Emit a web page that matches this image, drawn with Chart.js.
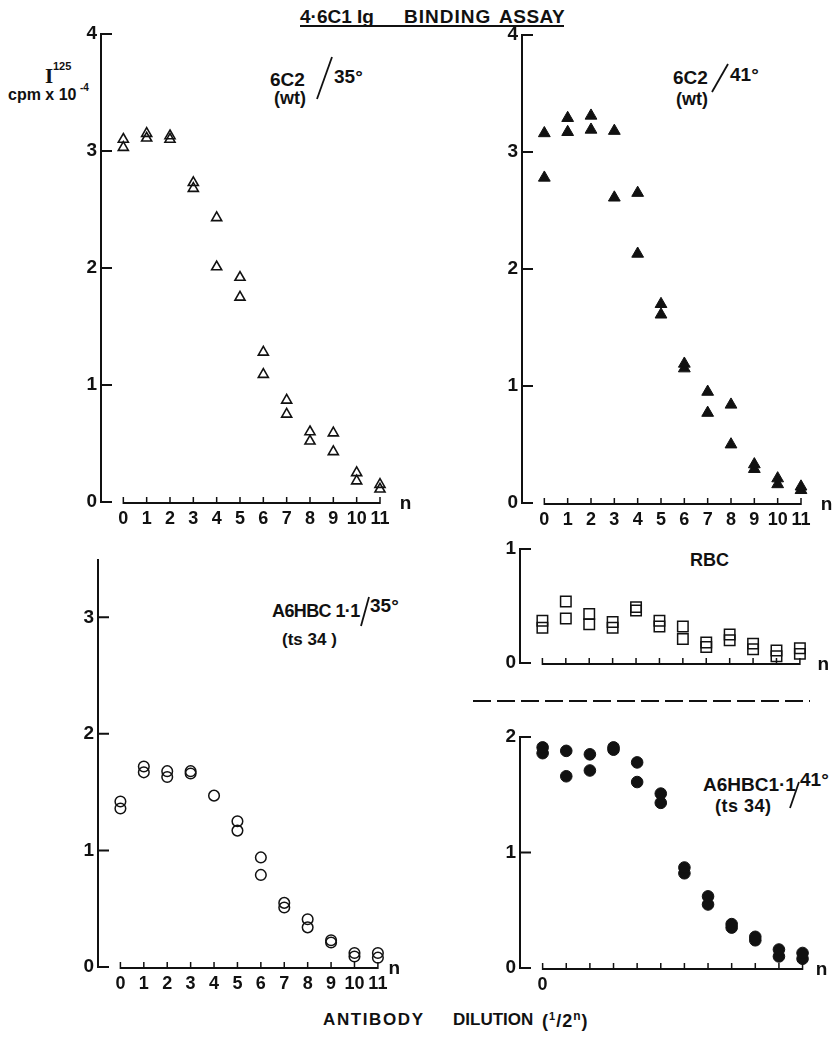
<!DOCTYPE html>
<html><head><meta charset="utf-8">
<script src="https://cdn.jsdelivr.net/npm/chart.js@4.4.1/dist/chart.umd.min.js"></script>
<style>
html,body{margin:0;padding:0;background:#fff;}
body{width:835px;height:1037px;position:relative;overflow:hidden;
 font-family:'Liberation Sans Narrow','Arial Narrow','Liberation Sans',Arial,sans-serif;font-weight:bold;color:#111;}
canvas{position:absolute;}
.t{position:absolute;white-space:nowrap;line-height:1;}
svg.deco{position:absolute;left:0;top:0;}
</style></head><body>

<!-- title -->
<div class="t" style="left:300px;top:7px;font-size:19px;">4·6C1 Ig</div>
<div class="t" style="left:404px;top:7px;font-size:19px;letter-spacing:1px;">BINDING</div>
<div class="t" style="left:499px;top:7px;font-size:19px;letter-spacing:0.5px;">ASSAY</div>
<div style="position:absolute;left:300px;top:25px;width:264px;height:2px;background:#111;"></div>

<!-- y axis title -->
<div class="t" style="left:45px;top:66px;font-size:21px;font-family:'Liberation Serif',serif;">I</div>
<div class="t" style="left:53px;top:61px;font-size:11px;">125</div>
<div class="t" style="left:8px;top:87px;font-size:16px;">cpm x 10</div>
<div class="t" style="left:80px;top:83px;font-size:10px;">-4</div>

<!-- panel labels -->
<div class="t" style="left:270px;top:70px;font-size:19px;">6C2</div>
<div class="t" style="left:334px;top:67px;font-size:19px;">35°</div>
<div class="t" style="left:274px;top:89px;font-size:18px;">(wt)</div>

<div class="t" style="left:673px;top:68px;font-size:19px;">6C2</div>
<div class="t" style="left:730px;top:65px;font-size:19px;">41°</div>
<div class="t" style="left:676px;top:90px;font-size:18px;">(wt)</div>

<div class="t" style="left:690px;top:551px;font-size:18px;">RBC</div>

<div class="t" style="left:272px;top:602px;font-size:18px;letter-spacing:-0.6px;">A6HBC 1·1</div>
<div class="t" style="left:370px;top:596px;font-size:19px;">35°</div>
<div class="t" style="left:282px;top:631px;font-size:17px;">(ts 34 )</div>

<div class="t" style="left:703px;top:775px;font-size:19px;">A6HBC1·1</div>
<div class="t" style="left:800px;top:770px;font-size:19px;">41°</div>
<div class="t" style="left:715px;top:797px;font-size:18px;letter-spacing:0.5px;">(ts 34)</div>

<!-- x axis title -->
<div class="t" style="left:323px;top:1011px;font-size:17px;letter-spacing:1.6px;">ANTIBODY</div>
<div class="t" style="left:453px;top:1011px;font-size:17px;letter-spacing:0px;">DILUTION</div>
<div class="t" style="left:542px;top:1010px;font-size:18px;letter-spacing:1px;">(<sup style="font-size:11px;">1</sup>/2<sup style="font-size:12px;">n</sup>)</div>

<svg class="deco" width="835" height="1037">
 <g stroke="#111" stroke-width="1.8" fill="none">
  <line x1="317" y1="99" x2="332" y2="57"/>
  <line x1="712" y1="92" x2="728" y2="64"/>
  <line x1="361" y1="626" x2="369" y2="597"/>
  <line x1="790" y1="808" x2="799" y2="782"/>
  <line x1="473" y1="701" x2="810" y2="701" stroke-width="2" stroke-dasharray="18 6"/>
 </g>
</svg>

<script>
// ---- data ----
const nValues = [0,1,2,3,4,5,6,7,8,9,10,11];
const xLabelsAll = [0,1,2,3,4,5,6,7,8,9,10,11];
const xLabelsZero = [0];
const xLabelsNone = [];
const yTicks4 = [0,1,2,3,4];
const yTicks3 = [0,1,2,3];
const yTicks2 = [0,1,2];
const yTicks1 = [0,1];

// 6C2 / 35° (wt) — open triangles, two replicates
const wt35A = [3.10,3.15,3.13,2.73,2.43,1.92,1.28,0.87,0.60,0.59,0.25,0.15];
const wt35B = [3.03,3.11,3.10,2.68,2.01,1.75,1.09,0.75,0.52,0.43,0.18,0.11];
// 6C2 / 41° (wt) — filled triangles
const wt41A = [3.16,3.29,3.31,3.18,2.65,1.70,1.19,0.95,0.84,0.33,0.21,0.14];
const wt41B = [2.78,3.17,3.19,2.61,2.13,1.61,1.15,0.77,0.50,0.29,0.16,0.11];
// RBC — open squares
const rbcA = [0.37,0.54,0.43,0.36,0.49,0.37,0.32,0.18,0.25,0.17,0.11,0.13];
const rbcB = [0.31,0.39,0.34,0.31,0.46,0.32,0.21,0.14,0.20,0.12,0.06,0.08];
// A6HBC1·1 / 35° (ts34) — open circles
const ts35A = [1.42,1.72,1.68,1.68,1.47,1.25,0.94,0.55,0.41,0.23,0.12,0.12];
const ts35B = [1.36,1.67,1.63,1.66,null,1.17,0.79,0.51,0.34,0.21,0.09,0.08];
// A6HBC1·1 / 41° (ts34) — filled circles
const ts41A = [1.91,1.88,1.85,1.91,1.78,1.51,0.87,0.62,0.38,0.27,0.16,0.13];
const ts41B = [1.86,1.66,1.71,1.89,1.61,1.43,0.82,0.55,0.35,0.24,0.10,0.08];

// ---- styling ----
const FONT = "'Liberation Sans Narrow','Arial Narrow','Liberation Sans',Arial,sans-serif";
const INK = '#111';
const markers = {
  openTri:   {pointStyle:'triangle', pointRadius:5.8, pointBorderWidth:1.6, pointBorderColor:INK, pointBackgroundColor:'rgba(0,0,0,0)'},
  fillTri:   {pointStyle:'triangle', pointRadius:6.8, pointBorderWidth:1, pointBorderColor:INK, pointBackgroundColor:INK},
  openSq:    {pointStyle:'rect', pointRadius:7.4, pointBorderWidth:1.5, pointBorderColor:INK, pointBackgroundColor:'rgba(0,0,0,0)'},
  openCirc:  {pointStyle:'circle', pointRadius:5.3, pointBorderWidth:1.5, pointBorderColor:INK, pointBackgroundColor:'rgba(0,0,0,0)'},
  fillCirc:  {pointStyle:'circle', pointRadius:5.8, pointBorderWidth:1, pointBorderColor:INK, pointBackgroundColor:INK}
};

const panels = [
  {axisX:100, zeroY:502, ppu:117,   yMax:4,   step:23.3, xMax:12.5, nAt:12.1, yTicks:yTicks4, xLabels:xLabelsAll,  series:[wt35A, wt35B], marker:'openTri'},
  {axisX:521, zeroY:503, ppu:117,   yMax:4,   step:23.3, xMax:12.5, nAt:12.1, yTicks:yTicks4, xLabels:xLabelsAll,  series:[wt41A, wt41B], marker:'fillTri'},
  {axisX:519, zeroY:663, ppu:114,   yMax:1,   step:23.4, xMax:12.5, nAt:12.0, yTicks:yTicks1, xLabels:xLabelsNone, series:[rbcA, rbcB],   marker:'openSq'},
  {axisX:97,  zeroY:967, ppu:116.5, yMax:3.5, step:23.4, xMax:12.5, nAt:11.7, yTicks:yTicks3, xLabels:xLabelsAll,  series:[ts35A, ts35B], marker:'openCirc'},
  {axisX:519, zeroY:968, ppu:115.5, yMax:2,   step:23.6, xMax:12.5, nAt:11.8, yTicks:yTicks2, xLabels:xLabelsZero, series:[ts41A, ts41B], marker:'fillCirc'}
];

const paperAxes = {
  id:'paperAxes',
  beforeDatasetsDraw(chart, args, o){
    const {ctx, scales:{x, y}} = chart;
    ctx.save();
    ctx.strokeStyle = INK; ctx.lineWidth = 2; ctx.lineCap = 'butt';
    const x0 = x.getPixelForValue(-1) + 1;
    const yTop = y.getPixelForValue(o.yMax), yBot = y.getPixelForValue(0);
    ctx.beginPath();
    ctx.moveTo(x0, yTop); ctx.lineTo(x0, yBot + 1);
    o.yTicks.forEach(v => { const py = y.getPixelForValue(v); ctx.moveTo(x0 - 1, py); ctx.lineTo(x0 + 11, py); });
    ctx.stroke();
    const axY = yBot + 1;
    const xa = x.getPixelForValue(nValues[0]), xb = x.getPixelForValue(nValues[nValues.length - 1]);
    ctx.beginPath();
    ctx.moveTo(xa, axY); ctx.lineTo(xb, axY);
    ctx.lineWidth = 1.8;
    ctx.stroke();
    ctx.beginPath(); ctx.lineWidth = 1.5;
    nValues.forEach(n => { const px = x.getPixelForValue(n); ctx.moveTo(px, axY + 1); ctx.lineTo(px, axY - 6); });
    ctx.stroke();
    ctx.fillStyle = INK;
    ctx.font = 'bold 19px ' + FONT;
    ctx.textAlign = 'center'; ctx.textBaseline = 'middle';
    ctx.fillText('n', x.getPixelForValue(o.nAt), axY + 1);
    ctx.restore();
  }
};

function makePanel(p){
  const padTop = 16, yW = 44, xH = 34, padRight = 34;
  const chartW = (p.xMax + 1) * p.step;
  const chartH = p.yMax * p.ppu;
  const W = Math.round(yW + chartW + padRight), H = Math.round(padTop + chartH + xH);
  const cv = document.createElement('canvas');
  cv.width = W; cv.height = H;
  cv.style.width = W + 'px'; cv.style.height = H + 'px';
  cv.style.left = (p.axisX - yW) + 'px';
  cv.style.top = (p.zeroY - chartH - padTop) + 'px';
  document.body.appendChild(cv);
  const m = markers[p.marker];
  const datasets = p.series.map(s => ({
    data: nValues.map((n, i) => ({x:n, y:s[i]})).filter(d => d.y !== null),
    showLine:false, clip:false, ...m
  }));
  new Chart(cv, {
    type:'scatter',
    data:{datasets},
    options:{
      responsive:false, animation:false, events:[],
      layout:{padding:{top:padTop, right:padRight, left:0, bottom:0}},
      plugins:{legend:{display:false}, tooltip:{enabled:false}, paperAxes:{yMax:p.yMax, yTicks:p.yTicks, nAt:p.nAt}},
      scales:{
        x:{type:'linear', min:-1, max:p.xMax,
           grid:{display:false, drawTicks:false}, border:{display:false},
           afterBuildTicks(s){ s.ticks = nValues.map(v => ({value:v})); },
           afterFit(s){ s.height = xH; },
           ticks:{autoSkip:false, maxRotation:0, minRotation:0, padding:6, color:INK,
                  font:{family:FONT, size:18, weight:'bold'},
                  callback:(v) => p.xLabels.includes(v) ? String(v) : ''}},
        y:{type:'linear', min:0, max:p.yMax,
           grid:{display:false, drawTicks:false}, border:{display:false},
           afterBuildTicks(s){ s.ticks = p.yTicks.map(v => ({value:v})); },
           afterFit(s){ s.width = yW; },
           ticks:{padding:3, color:INK, font:{family:FONT, size:19, weight:'bold'},
                  callback:(v) => String(v)}}
      }
    },
    plugins:[paperAxes]
  });
}
panels.forEach(makePanel);
</script>
</body></html>
